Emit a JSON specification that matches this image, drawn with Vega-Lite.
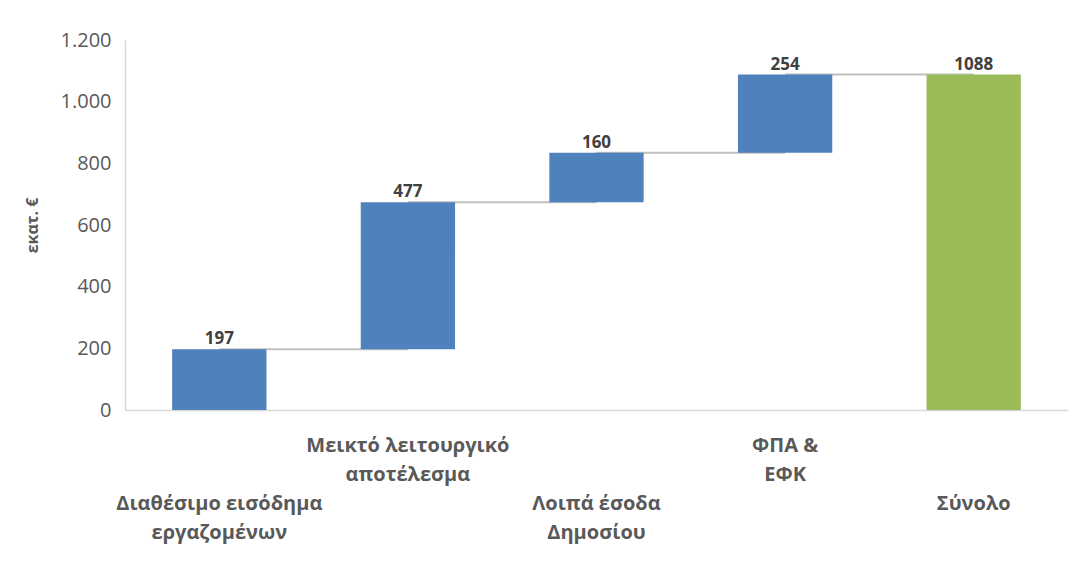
{
  "$schema": "https://vega.github.io/schema/vega-lite/v6.json",
  "autosize": {"type": "none"},
  "width": 943,
  "height": 370,
  "padding": {"left": 125, "top": 40, "right": 2, "bottom": 160},
  "background": "white",
  "config": {
    "view": {"stroke": null},
    "font": "Open Sans",
    "locale": {"number": {"decimal": ",", "thousands": ".", "grouping": [3], "currency": ["", " €"]}}
  },
  "data": {
    "values": [
      {"cat": "Διαθέσιμο εισόδημα εργαζομένων", "start": 0, "end": 197, "label": "197", "next": "Μεικτό λειτουργικό αποτέλεσμα", "kind": "step"},
      {"cat": "Μεικτό λειτουργικό αποτέλεσμα", "start": 197, "end": 674, "label": "477", "next": "Λοιπά έσοδα Δημοσίου", "kind": "step"},
      {"cat": "Λοιπά έσοδα Δημοσίου", "start": 674, "end": 834, "label": "160", "next": "ΦΠΑ & ΕΦΚ", "kind": "step"},
      {"cat": "ΦΠΑ & ΕΦΚ", "start": 834, "end": 1088, "label": "254", "next": "Σύνολο", "kind": "step"},
      {"cat": "Σύνολο", "start": 0, "end": 1088, "label": "1088", "next": null, "kind": "total"}
    ]
  },
  "encoding": {
    "x": {
      "field": "cat",
      "type": "nominal",
      "sort": null,
      "scale": {"paddingInner": 0.5, "paddingOuter": 0.25},
      "axis": {
        "title": null,
        "labelAngle": 0,
        "ticks": false,
        "domainColor": "#d9d9d9",
        "domainWidth": 1.5,
        "labelOverlap": false,
        "labelBound": false,
        "labelFont": "Open Sans",
        "labelFontSize": 20,
        "labelFontWeight": "bold",
        "labelColor": "#595959",
        "labelLineHeight": 29,
        "labelPadding": {"condition": {"test": "datum.value == 'Μεικτό λειτουργικό αποτέλεσμα' || datum.value == 'ΦΠΑ & ΕΦΚ'", "value": 25}, "value": 83},
        "labelBaseline": "top",
        "labelLimit": 0,
        "labelExpr": "datum.value == 'Διαθέσιμο εισόδημα εργαζομένων' ? ['Διαθέσιμο εισόδημα', 'εργαζομένων'] : datum.value == 'Μεικτό λειτουργικό αποτέλεσμα' ? ['Μεικτό λειτουργικό', 'αποτέλεσμα'] : datum.value == 'Λοιπά έσοδα Δημοσίου' ? ['Λοιπά έσοδα', 'Δημοσίου'] : datum.value == 'ΦΠΑ & ΕΦΚ' ? ['ΦΠΑ &', 'ΕΦΚ'] : ['Σύνολο', ' ']"
      }
    }
  },
  "layer": [
    {
      "mark": {"type": "rule", "color": "#bfbfbf", "strokeWidth": 2},
      "transform": [{"filter": "datum.next != null"}],
      "encoding": {
        "x": {"field": "cat", "type": "nominal", "sort": null, "bandPosition": 0.5},
        "x2": {"field": "next", "bandPosition": 0.5},
        "y": {"field": "end", "type": "quantitative"}
      }
    },
    {
      "mark": {"type": "bar"},
      "encoding": {
        "y": {
          "field": "start",
          "type": "quantitative",
          "scale": {"domain": [0, 1200], "nice": false},
          "axis": {
            "title": "εκατ. €",
            "titleFont": "Open Sans",
            "titleFontSize": 16,
            "titleFontWeight": "bold",
            "titleColor": "#595959",
            "titlePadding": 20,
            "values": [0, 200, 400, 600, 800, 1000, 1200],
            "format": ",d",
            "grid": false,
            "ticks": false,
            "domainColor": "#d9d9d9",
            "domainWidth": 1.5,
            "labelFont": "Open Sans",
            "labelFontSize": 20,
            "labelColor": "#595959",
            "labelPadding": 14
          }
        },
        "y2": {"field": "end"},
        "color": {
          "field": "kind",
          "type": "nominal",
          "scale": {"domain": ["step", "total"], "range": ["#4f81bd", "#9bbb59"]},
          "legend": null
        }
      }
    },
    {
      "mark": {"type": "text", "baseline": "bottom", "dy": -1, "fontSize": 17, "fontWeight": "bold", "color": "#404040", "font": "Open Sans"},
      "encoding": {
        "y": {"field": "end", "type": "quantitative"},
        "text": {"field": "label"}
      }
    }
  ]
}
